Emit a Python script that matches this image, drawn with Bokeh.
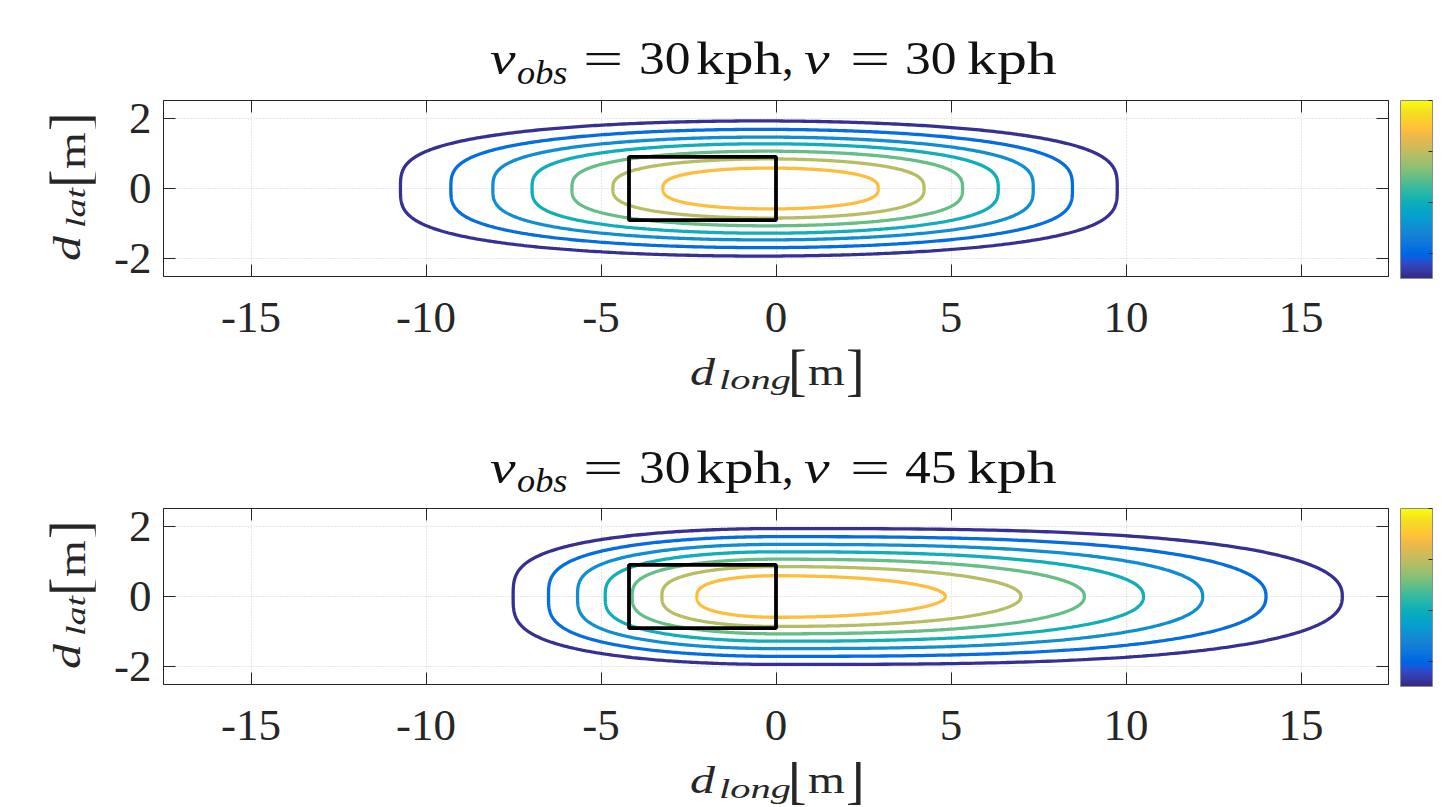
import numpy as np
from bokeh.plotting import figure
from bokeh.models import (LinearAxis, ColorBar, LinearColorMapper, Div,
                          FixedTicker, Range1d, CustomJSTickFormatter)
from bokeh.layouts import column, row
from bokeh.embed import file_html
from bokeh.resources import INLINE

# ---------------- data ----------------
x_ticks = [-15, -10, -5, 0, 5, 10, 15]
y_ticks = [-2, 0, 2]
cbar_ticks = [0.5, 1.5, 2.5, 3.5]
cbar_low, cbar_high = 0.0, 3.5
levels = [0.05, 0.53, 1.02, 1.50, 1.98, 2.47, 2.95]

v_obs = "30"
v_ego = ["30", "45"]          # kph, top and bottom panel

# contour extents, top panel (v = 30 kph)
top_left = [-10.73, -9.29, -8.09, -6.97, -5.83, -4.66, -3.23]
top_right = [9.75, 8.47, 7.35, 6.35, 5.33, 4.23, 2.92]
top_half = [1.92, 1.68, 1.46, 1.27, 1.06, 0.84, 0.58]

# contour extents, bottom panel (v = 45 kph)
bot_left = [-7.51, -6.50, -5.67, -4.88, -4.11, -3.26, -2.26]
bot_right = [16.18, 14.00, 12.19, 10.50, 8.81, 7.00, 4.84]
bot_half = [1.93, 1.70, 1.48, 1.27, 1.06, 0.85, 0.59]
bot_peak = [0.0, 0.0, 0.0, 0.0, 0.0, 0.0, 0.0]

# ego vehicle box
veh_x = [-4.2, 0.0]
veh_y = [-0.9, 0.9]

# ---------------- style ----------------
PARULA_RGB = [
    (0.2081, 0.1663, 0.5292), (0.2116, 0.1898, 0.5777), (0.2123, 0.2138, 0.6270), (0.2081, 0.2386, 0.6771),
    (0.1959, 0.2645, 0.7279), (0.1707, 0.2919, 0.7792), (0.1253, 0.3242, 0.8303), (0.0591, 0.3598, 0.8683),
    (0.0117, 0.3875, 0.8820), (0.0060, 0.4086, 0.8828), (0.0165, 0.4266, 0.8786), (0.0329, 0.4430, 0.8720),
    (0.0498, 0.4586, 0.8641), (0.0629, 0.4737, 0.8554), (0.0723, 0.4887, 0.8467), (0.0779, 0.5040, 0.8384),
    (0.0793, 0.5200, 0.8312), (0.0749, 0.5375, 0.8263), (0.0641, 0.5570, 0.8240), (0.0488, 0.5772, 0.8228),
    (0.0343, 0.5966, 0.8199), (0.0265, 0.6137, 0.8135), (0.0239, 0.6287, 0.8038), (0.0231, 0.6418, 0.7913),
    (0.0228, 0.6535, 0.7768), (0.0267, 0.6642, 0.7607), (0.0384, 0.6743, 0.7436), (0.0590, 0.6838, 0.7254),
    (0.0843, 0.6928, 0.7062), (0.1133, 0.7015, 0.6859), (0.1453, 0.7098, 0.6646), (0.1801, 0.7177, 0.6424),
    (0.2178, 0.7250, 0.6193), (0.2586, 0.7317, 0.5954), (0.3022, 0.7376, 0.5712), (0.3482, 0.7424, 0.5473),
    (0.3953, 0.7459, 0.5244), (0.4420, 0.7481, 0.5033), (0.4871, 0.7491, 0.4840), (0.5300, 0.7491, 0.4661),
    (0.5709, 0.7485, 0.4494), (0.6099, 0.7473, 0.4337), (0.6473, 0.7456, 0.4188), (0.6834, 0.7435, 0.4044),
    (0.7184, 0.7411, 0.3905), (0.7525, 0.7384, 0.3768), (0.7858, 0.7356, 0.3633), (0.8185, 0.7327, 0.3498),
    (0.8507, 0.7299, 0.3360), (0.8824, 0.7274, 0.3217), (0.9139, 0.7258, 0.3063), (0.9450, 0.7261, 0.2886),
    (0.9739, 0.7314, 0.2666), (0.9938, 0.7455, 0.2403), (0.9990, 0.7653, 0.2164), (0.9955, 0.7861, 0.1967),
    (0.9880, 0.8066, 0.1794), (0.9789, 0.8271, 0.1633), (0.9697, 0.8481, 0.1475), (0.9626, 0.8705, 0.1309),
    (0.9589, 0.8949, 0.1132), (0.9598, 0.9218, 0.0948), (0.9661, 0.9514, 0.0755), (0.9763, 0.9831, 0.0538)]
PARULA = ["#%02x%02x%02x" % tuple(int(round(c * 255)) for c in rgb) for rgb in PARULA_RGB]

AX = "#262626"
SERIF = "Liberation Serif"
TICK_FS = "45px"

# contour shape exponents: p along x, q along y
top_p = [2.0] * 7
top_q = [3.3, 3.2, 3.1, 3.0, 2.95, 2.85, 2.75]
bot_pl = [2.0] * 7
bot_ql = [3.3, 3.2, 3.1, 3.0, 2.9, 2.8, 2.7]
bot_pr = [3.0, 2.85, 2.7, 2.55, 2.4, 2.25, 2.1]
bot_qr = [2.4, 2.35, 2.3, 2.25, 2.2, 2.1, 2.0]

# layout (pixels, page has no margin)
FRAME_W, FRAME_H = 1225, 176
YLAB_W = 95
LEFT_B = 163 - YLAB_W
TOP_B, BOT_B, RIGHT_B = 10, 78, 54
TITLE1_H, XLAB1_H, TITLE2_H, XLAB2_H = 90, 62, 82, 45
FIG_H = TOP_B + FRAME_H + BOT_B
LH = 0.8
BASE_OFF = (LH - 1.107) / 2 + 0.891


def half_curve(xp, a, b, p, q, t):
    c, s = np.cos(t), np.sin(t)
    x = xp + a * np.sign(c) * np.abs(c) ** (2.0 / p)
    y = b * np.sign(s) * np.abs(s) ** (2.0 / q)
    return x, y


def contour_xy(xl, xp, xr, b, pl, ql, pr, qr, m=300):
    t_r = np.linspace(-np.pi / 2, np.pi / 2, m)
    t_l = np.linspace(np.pi / 2, 3 * np.pi / 2, m)
    xr_, yr_ = half_curve(xp, xr - xp, b, pr, qr, t_r)
    xl_, yl_ = half_curve(xp, xp - xl, b, pl, ql, t_l)
    return np.concatenate([xr_, xl_]), np.concatenate([yr_, yl_])


def level_color(lv):
    i = int(round((lv - cbar_low) / (cbar_high - cbar_low) * (len(PARULA) - 1)))
    return PARULA[max(0, min(len(PARULA) - 1, i))]


def span(text, left, baseline, size, italic=False, sx=1.0, color=AX, rot=False):
    style = (f"position:absolute;white-space:nowrap;line-height:{LH};margin:0;padding:0;"
             f"font-family:'{SERIF}';font-size:{size}px;color:{color};"
             f"font-style:{'italic' if italic else 'normal'};transform-origin:0 0;")
    if not rot:
        top = baseline - BASE_OFF * size
        style += f"left:{left:.1f}px;top:{top:.1f}px;transform:scaleX({sx});"
    else:
        # left = page-y where the (upward running) text starts, baseline = page x
        lft = baseline - BASE_OFF * size
        style += f"left:{lft:.1f}px;top:{left:.1f}px;transform:rotate(-90deg) scaleX({sx});"
    return f'<div style="{style}">{text}</div>'


def box_div(inner, w, h, clip=False):
    ov = "hidden" if clip else "visible"
    html = (f'<div style="position:relative;width:{w}px;height:{h}px;overflow:{ov};'
            f'margin:0;padding:0;">{"".join(inner)}</div>')
    return Div(text=html, width=w, height=h, margin=0, styles={"overflow": ov})


def title_div(vtxt, h, dy):
    c = "#111111"
    b = 75 - dy
    parts = [span("v", 490, b, 46, True, 1.25, c),
             span("obs", 517, b + 9, 33, True, 1.1, c),
             span("=", 583, b, 46, False, 1.55, c),
             span(v_obs, 639, b, 46, False, 1.12, c),
             span("kph", 696, b, 46, False, 1.25, c),
             span(",", 782, b, 46, False, 1.0, c),
             span("v", 804, b, 46, True, 1.25, c),
             span("=", 850, b, 46, False, 1.55, c),
             span(vtxt, 905, b, 46, False, 1.12, c),
             span("kph", 967, b, 46, False, 1.3, c)]
    return box_div(parts, 1444, h)


def xlabel_div(h, dy, clip=False):
    parts = [span("d", 690, 385 - dy, 37, True, 1.35),
             span("long", 719, 390 - dy, 27, True, 1.5),
             span("[", 788, 389 - dy, 56),
             span("m", 808, 385 - dy, 37, False, 1.28),
             span("]", 846, 389 - dy, 56)]
    return box_div(parts, 1444, h, clip)


def ylabel_div(h, dy):
    parts = [span("d", 261 - dy, 80, 37, True, 1.35, rot=True),
             span("lat", 228 - dy, 86, 27, True, 1.4, rot=True),
             span("[", 188 - dy, 89, 56, rot=True),
             span("m", 169 - dy, 85, 37, False, 1.28, rot=True),
             span("]", 131 - dy, 89, 56, rot=True)]
    return box_div(parts, YLAB_W, h)


def make_panel(lefts, rights, halves, peaks, pls, qls, prs, qrs):
    p = figure(frame_width=FRAME_W, frame_height=FRAME_H,
               x_range=Range1d(-17.5, 17.5), y_range=Range1d(-2.5, 2.5),
               output_backend="svg", toolbar_location=None,
               min_border_left=LEFT_B, min_border_top=TOP_B,
               min_border_bottom=BOT_B, min_border_right=RIGHT_B,
               background_fill_color="white", border_fill_color="white")
    p.outline_line_color = AX
    p.outline_line_width = 1

    xt = FixedTicker(ticks=x_ticks)
    yt = FixedTicker(ticks=y_ticks)
    plain = CustomJSTickFormatter(code="return String(tick)")
    blank = CustomJSTickFormatter(code="return ''")
    for ax in p.xaxis:
        ax.ticker = xt
    for ax in p.yaxis:
        ax.ticker = yt
    for ax in list(p.xaxis) + list(p.yaxis):
        ax.formatter = plain
        ax.major_tick_in = 12
        ax.major_tick_out = 0
        ax.minor_tick_line_color = None
        ax.axis_line_color = AX
        ax.major_tick_line_color = AX
        ax.major_label_text_font = SERIF
        ax.major_label_text_font_size = TICK_FS
        ax.major_label_text_color = AX
    p.xaxis.major_label_standoff = 26
    p.yaxis.major_label_standoff = 12

    for loc, tk in (("right", yt), ("above", xt)):
        ax = LinearAxis(ticker=tk, formatter=blank, major_tick_in=12, major_tick_out=0,
                        minor_tick_line_color=None, axis_line_color=AX,
                        major_tick_line_color=AX, major_label_standoff=0,
                        major_label_text_font_size="1px")
        p.add_layout(ax, loc)
    # invisible spacer between the frame and the colour bar
    spacer = LinearAxis(ticker=yt, formatter=blank, major_tick_in=0, major_tick_out=12,
                        minor_tick_line_color=None, axis_line_color=None,
                        major_tick_line_color=None, major_label_standoff=0,
                        major_label_text_font_size="1px")
    p.add_layout(spacer, "right")

    p.xgrid.ticker = xt
    p.ygrid.ticker = yt
    for g in (p.xgrid, p.ygrid):
        g.grid_line_color = "#cfcfcf"
        g.grid_line_dash = "1 2"
        g.grid_line_width = 1

    xs, ys, cols = [], [], []
    for i in range(len(lefts)):
        x, y = contour_xy(lefts[i], peaks[i], rights[i], halves[i],
                          pls[i], qls[i], prs[i], qrs[i])
        xs.append(x)
        ys.append(y)
        cols.append(level_color(levels[i]))
    p.multi_line(xs=xs, ys=ys, line_color=cols, line_width=3.3)

    p.quad(left=[veh_x[0]], right=[veh_x[1]], bottom=[veh_y[0]], top=[veh_y[1]],
           fill_alpha=0, line_color="black", line_width=3.8)

    mapper = LinearColorMapper(palette=PARULA, low=cbar_low, high=cbar_high)
    cb = ColorBar(color_mapper=mapper, ticker=FixedTicker(ticks=cbar_ticks),
                  formatter=blank, width=32, height=FRAME_H + 2, padding=0, margin=0,
                  major_tick_in=4, major_tick_out=0, major_tick_line_color=AX,
                  bar_line_color="#8c8c8c", border_line_color=None,
                  background_fill_color="white", label_standoff=0,
                  major_label_text_font_size="1px", minor_tick_line_color=None)
    p.add_layout(cb, "right")
    return p


p1 = make_panel(top_left, top_right, top_half,
                [(a + b) / 2 for a, b in zip(top_left, top_right)],
                top_p, top_q, top_p, top_q)
p2 = make_panel(bot_left, bot_right, bot_half, bot_peak,
                bot_pl, bot_ql, bot_pr, bot_qr)

fig1_top = TITLE1_H
xlab1_top = fig1_top + FIG_H
title2_top = xlab1_top + XLAB1_H
fig2_top = title2_top + TITLE2_H
xlab2_top = fig2_top + FIG_H
SHIFT = 408.4   # vertical distance between the two panels in the reference

layout = column(
    title_div(v_ego[0], TITLE1_H, 0),
    row(ylabel_div(FIG_H, fig1_top), p1, spacing=0),
    xlabel_div(XLAB1_H, xlab1_top),
    title_div(v_ego[1], TITLE2_H, title2_top - SHIFT),
    row(ylabel_div(FIG_H, fig2_top - SHIFT), p2, spacing=0),
    xlabel_div(XLAB2_H, xlab2_top - SHIFT, clip=True),
    spacing=0)
open("out.html", "w").write(file_html(layout, INLINE))
